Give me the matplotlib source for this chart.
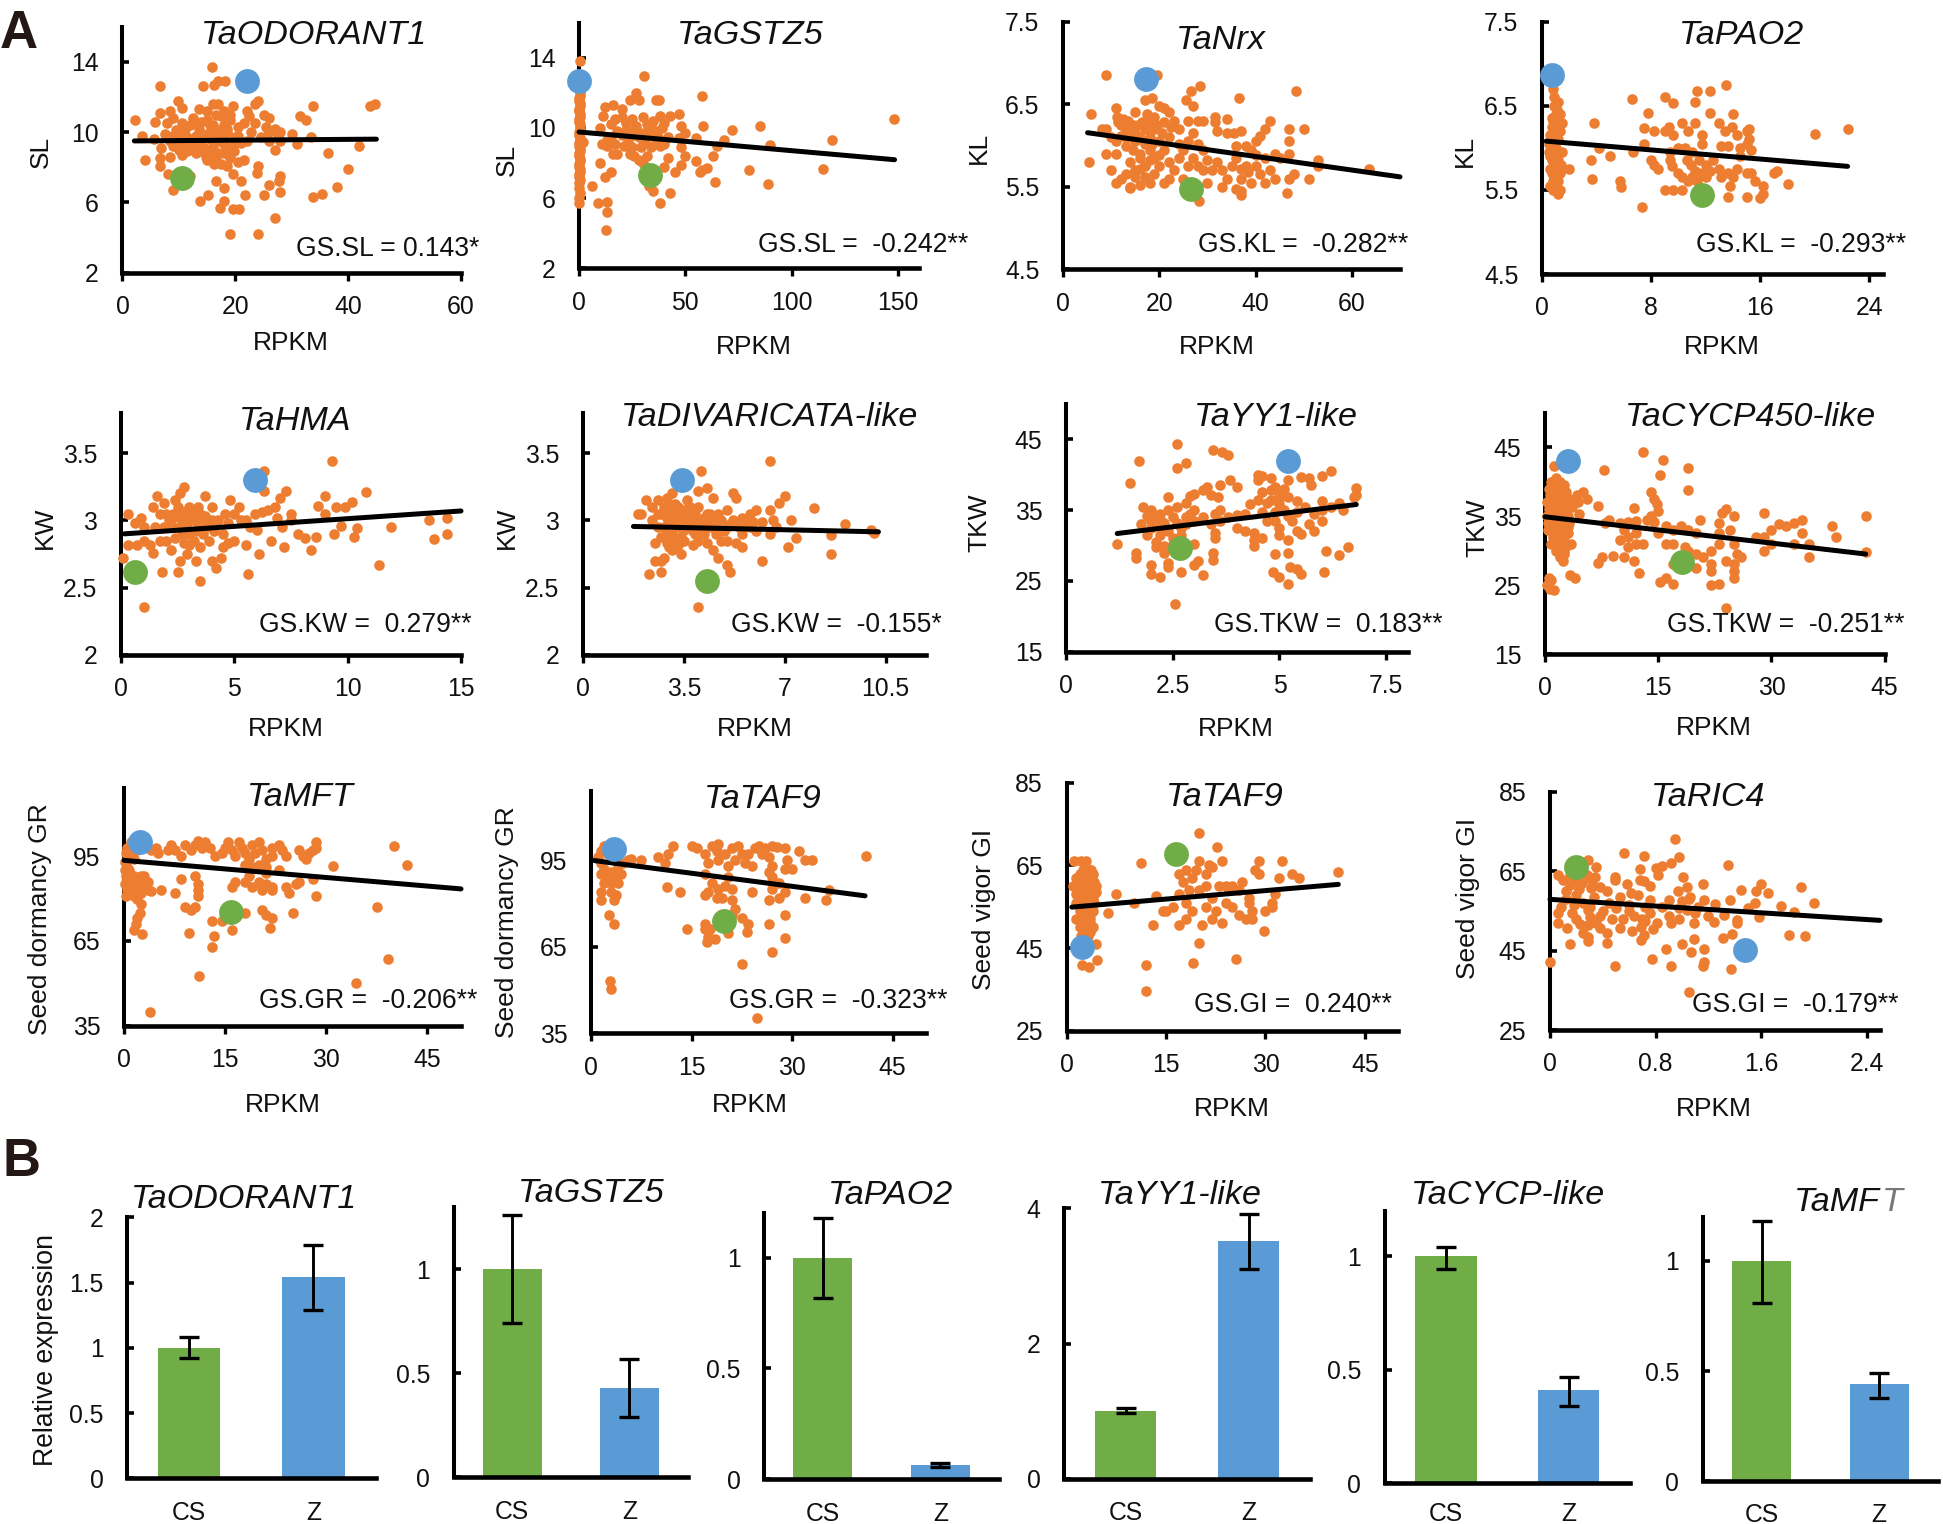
import numpy as np
import matplotlib
matplotlib.use("Agg")
import matplotlib.pyplot as plt

plt.rcParams['font.family'] = ['Liberation Sans', 'DejaVu Sans']

W, H = 1943, 1524
ORANGE, GREEN, BLUE = '#ED7D31', '#70AD47', '#5B9BD5'
INK = '#111111'

# ---------- panel A point readings (RPKM, trait) ----------
odorant_pts = [(15.8,13.7),(6.6,12.6),(14.2,12.6),(16.2,12.7),(17,12.9),(18.2,12.9),(24,11.8),(23.5,11.6),(9.8,11.8),(10.5,11.4),(8.5,11.2),(6.6,11.1),(13.5,11.3),(16,11.6),(17,11.6),(19.5,11.5),(22,11.2),(22.5,10.9),(25,11.0),(26,10.8),(33.8,11.5),(43.8,11.5),(44.8,11.6),(31.5,10.9),(32.5,10.7),(2.2,10.7),(5.8,10.6),(7.8,10.5),(9,10.8),(12.5,10.8),(14,10.6),(16,10.4),(17.5,10.9),(19,10.7),(20.5,10.3),(22.8,10),(25.5,10.3),(27,10.2),(28,10),(30,9.9),(33.5,9.7),(3.5,9.8),(5.5,9.6),(7.5,9.9),(9.5,10.1),(11,10.2),(13,9.8),(15,9.9),(17,9.9),(18.5,10),(20,9.7),(22,9.5),(24.5,9.7),(26,9.5),(28,9.5),(31,9.3),(42,9.2),(6.8,9.1),(9,9.2),(10.5,9.3),(12,9.2),(14,9.3),(16,9.2),(18,9.3),(19.5,9.2),(21,9.4),(27,9),(36.5,8.8),(3.9,8.4),(6.7,8.5),(8.5,8.6),(10.5,8.7),(13,8.8),(15,8.4),(16.5,8.6),(17.5,8.2),(19,8.5),(20.5,8.3),(24,8.1),(6.6,8.1),(23.8,7.7),(40,7.9),(8,7.6),(12,7.5),(16.5,7.2),(19.5,7.6),(21,7.2),(28,7.5),(27.8,7.2),(9,6.7),(18,6.8),(25,6.4),(28,6.6),(26,7),(38,6.9),(33.8,6.3),(35.3,6.5),(15.2,6.4),(13.7,6.1),(18,6.1),(21.8,6.4),(17.3,5.7),(19.5,5.6),(20.7,5.6),(27,5.1),(19,4.2),(24,4.2),(11.5,9.7),(12.5,9.5),(14.5,9.1),(15.5,8.9),(17,8.8),(18,9.7),(19,9),(12,10.4),(15,10.7),(18,10.4),(16,10),(13.5,10.2),(10,9.7),(8.5,9.5)]
odorant_dense = [(15,11.2),(16.5,11),(18,11.2),(19,11),(18.5,10.2),(17.3,10.1),(15.5,10.4),(13,10.5),(10.5,10.5),(9,9.8),(11,9.4),(12.5,9),(13.5,8.9),(14.8,8.6),(16.2,8.2),(18,8.8),(19.7,8.9),(20.5,9.8),(21.5,10.5),(17,9.5),(15.5,9.6),(14,9.6),(11.5,8.9),(10,9),(16,8.4),(18.5,8.1),(21.5,8.4),(26,10),(27.5,9.8),(23.5,10.5)]
gstz_pts = [(.3,13.8),(.2,12.3),(.3,12),(.2,11.7),(.3,11.4),(.2,11.1),(.3,10.8),(.2,10.5),(.3,10.2),(.5,9.9),(.2,9.6),(.4,9.3),(.2,9),(.3,8.7),(.2,8.4),(.3,8.1),(.2,7.8),(.3,7.5),(.2,7.2),(.2,6.6),(.3,6.3),(.2,6),(.2,5.7),(30.5,12.95),(27,12),(24,11.6),(28,11.6),(36,11.6),(37.5,11.6),(58,11.8),(12,11.2),(16,11.3),(20,11.1),(11.5,10.7),(10,10),(15,10.2),(17,10.5),(20,10.6),(22,10.3),(25,10.5),(27,10.1),(30,10.6),(32,10.2),(35,10.4),(38,10.7),(40,10.3),(43,10.7),(47,10.8),(48,10.1),(58.5,10.1),(72,9.9),(85,10.1),(148,10.5),(119,9.3),(89.8,9.05),(114.8,7.66),(80,7.6),(89,6.8),(64,6.9),(60,7.7),(58,7.6),(57,7.5),(63,8.4),(68,9.3),(55,9.4),(65,9),(50,9.7),(47,9.4),(48,8.9),(50,8.4),(55,8.1),(48,7.9),(40,7.8),(45,7.5),(33,6.7),(35,6.4),(43,6.3),(38,5.7),(12,7.2),(15,7.5),(10,8),(6,6.7),(9,5.7),(13,5.8),(13,5.2),(12.5,4.2),(11,9.1),(13,9),(16,8.5),(18,8.5),(21,9),(23,9.2),(25,8.9),(26,8.4),(28,8.2),(30,8),(32,8.4),(34,8.9),(36,9.2),(38,9),(40,9.1),(42,8.3),(42,9.5),(28,9.5),(30,9.7),(33,9.7),(36,9.8),(18,9.8),(20,9.6),(24,9.8),(15,9.5),(13,9.3),(39,10),(2,9.2)]
gstz_dense = [(.2,13.1),(.3,11.85),(.2,11.55),(.3,11.25),(.2,10.95),(.3,10.65),(.2,10.35),(.3,10.05),(.2,9.75),(.3,9.45),(.2,9.15),(.3,8.85),(.2,8.55),(.3,8.25),(.2,7.95),(.3,7.65),(.2,7.35),(.3,7.05),(.2,6.85),(26,9.6),(31,9.2),(34,10),(29,8.9),(24,8.5),(37,9.5),(22,9.9),(17,9.1),(27,9.9)]
nrx_pts = [(8.9,6.85),(19.5,6.85),(28.5,6.72),(26.5,6.66),(48.5,6.66),(17,6.55),(18.5,6.58),(36.5,6.57),(25.5,6.55),(27,6.48),(5.8,6.38),(11,6.45),(11.2,6.35),(15,6.4),(20,6.48),(21,6.45),(22,6.4),(19,6.35),(23,6.3),(18,6.3),(24,6.2),(12,6.25),(13,6.2),(14,6.15),(15.5,6.25),(16,6.1),(17,6.2),(18,6.1),(19,6.2),(20.5,6.15),(22,6.1),(8,6.2),(9,6.2),(10,6.1),(11,6.05),(13,6.0),(26,6.3),(28,6.3),(29,6.3),(31.5,6.35),(31.5,6.28),(34,6.32),(34,6.15),(32,6.17),(35.5,6.15),(37,6.17),(27,6.15),(26,6.05),(28,6.02),(29,5.95),(43,6.3),(42,6.2),(41,6.12),(40,6.05),(38,6),(36,6.0),(39,5.95),(47,6.2),(50,6.2),(47,6.05),(47,5.9),(44,5.9),(45,5.85),(42,5.85),(40,5.88),(9,5.9),(11,5.9),(5.5,5.8),(10,5.7),(12,5.6),(13,5.65),(11,5.55),(14,5.8),(15,5.7),(16,5.9),(17,5.75),(18,5.95),(19,5.85),(20,5.75),(21,5.95),(22,5.8),(23,5.7),(24,5.85),(25,5.6),(26,5.75),(27,5.85),(28,5.75),(29,5.7),(30,5.55),(32,5.8),(33,5.7),(34,5.6),(33,5.5),(35,5.75),(36,5.85),(37,5.6),(38,5.75),(39,5.55),(40,5.75),(41,5.65),(43,5.7),(44,5.6),(42,5.55),(37,5.45),(36,5.47),(37,5.4),(47,5.6),(46.5,5.42),(48,5.65),(51,5.6),(53,5.75),(53,5.82),(63.5,5.72),(14,5.5),(16,5.52),(18,5.55),(21,5.55),(22,5.6),(28.3,5.33),(14,5.48)]
nrx_dense = [(11.5,6.28),(12.5,6.32),(13.5,6.3),(14.5,6.25),(15,6.15),(16.5,6.28),(17.5,6.38),(19.5,6.25),(20,6.05),(21,6.28),(22.5,6.22),(12,6.12),(13,6.1),(15,6.05),(17,6.02),(18.5,6.02),(14.5,5.95),(16,5.85),(18,5.82),(20,5.88),(15,5.62),(17,5.62),(19,5.65),(16,5.72),(24,6.02),(25,5.95),(30,5.82),(31,5.7),(37,5.72),(38.5,5.68)]
pao_pts = [(.8,6.7),(1.2,6.55),(.9,6.5),(1,6.4),(.7,6.35),(1.1,6.3),(.9,6.2),(1.5,6.3),(1.3,6.2),(.6,6.15),(1,6.1),(.8,6.05),(1.2,6.1),(1.5,5.95),(.5,5.95),(.9,5.9),(1.2,5.85),(.7,5.85),(1.4,5.8),(.6,5.75),(1,5.7),(1.3,5.7),(2,5.75),(.8,5.6),(1.2,5.6),(.6,5.55),(1.3,5.5),(.8,5.5),(1.2,5.45),(3.8,6.3),(4.2,6),(3.6,5.85),(3.7,5.63),(5.7,5.6),(5.8,5.53),(6.6,6.58),(6.7,5.95),(7.8,6.42),(7.5,6.24),(8.2,6.2),(7.5,6.05),(9,6.6),(9.6,6.53),(9.3,6.25),(9,6.2),(9.6,6.15),(10.3,6.3),(10.7,6.2),(11.2,6.55),(11.2,6.3),(11.4,6.68),(12.3,6.68),(13.5,6.75),(11.7,6.15),(11.7,6.05),(10,6),(10.5,6),(11,5.95),(12.3,6.42),(13.1,6.02),(13.6,6.02),(14,6.4),(13,6.3),(13.4,6.2),(13.9,6.25),(14.3,6.15),(14.5,6),(15,6.2),(15.2,6.1),(15.2,6.22),(15,6.05),(15.3,5.98),(9.4,5.95),(9.4,5.85),(8,5.85),(8.2,5.8),(8.5,5.75),(9.5,5.78),(10,5.7),(10.3,5.65),(10.7,5.6),(11.2,5.72),(11.7,5.7),(12,5.8),(12,5.65),(12.5,5.85),(13,5.75),(13.1,5.65),(13.6,5.7),(13.8,5.55),(14,5.65),(14.3,5.75),(15,5.7),(15.3,5.7),(15.6,5.6),(14.5,5.9),(16.2,5.55),(17,5.7),(17.2,5.72),(18,5.57),(9,5.5),(9.6,5.5),(10.3,5.5),(7.3,5.3),(13.6,5.42),(15,5.42),(16,5.4),(16.2,5.45),(20,6.16),(22.4,6.22),(5,5.9)]
pao_dense = [(.9,6.6),(1.1,6.45),(.7,6.25),(1.3,6.4),(.5,6.05),(1,6),(.6,5.9),(1.1,5.78),(.9,5.65),(.7,5.7),(1.1,6.18),(.8,6.32),(10.9,5.8),(11.4,5.6),(12.3,5.72),(10.6,5.85),(11,5.65),(11.5,5.85)]
hma_pts = [(9.3,3.44),(6.3,3.37),(1,2.36),(.1,2.72),(.3,3.05),(.6,2.98),(.9,3.02),(.3,2.82),(.7,2.82),(1,2.85),(1.3,2.82),(1.4,3.1),(1.6,3.18),(1.7,3.05),(1.9,3.13),(1.5,2.95),(1.4,2.76),(1.9,2.95),(1.8,2.62),(2.1,3),(2.3,2.95),(2.4,3.15),(2.6,3.2),(2.8,3.25),(2.5,2.62),(2.6,2.7),(2.7,2.9),(2.8,3),(3,3.05),(3,2.9),(2.2,2.78),(2.9,2.75),(3.2,2.85),(3.3,3),(3.5,3.05),(3.5,2.8),(3.3,2.7),(3.5,2.55),(3.7,3.18),(3.8,2.95),(3.9,2.85),(4,3.1),(4,2.7),(4.2,2.65),(4.3,3),(4.5,2.9),(4.5,2.8),(4.4,2.72),(4.7,2.98),(4.8,3.15),(5,3.05),(5,2.85),(5.2,3.1),(5.5,3),(5.5,2.82),(5.6,2.6),(5.7,2.95),(5.9,3.05),(6,2.93),(6.1,2.75),(6.3,3.22),(6.5,3.08),(6.6,2.85),(6.8,3.1),(7,3.17),(7.1,2.95),(7.3,3.22),(7.2,2.8),(7.5,3.05),(7.5,3),(7.8,2.9),(8.1,2.87),(8.4,2.78),(8.6,2.88),(8.7,3.11),(9,3.18),(9,3.05),(9.4,2.9),(9.5,3.1),(9.7,2.96),(9.9,3.1),(10.2,3.14),(10.3,2.88),(10.4,2.94),(10.8,3.21),(11.9,2.95),(11.4,2.67),(13.6,3),(13.8,2.86),(14.4,3.02),(14.4,2.9),(3,3.1),(2,2.85),(1,2.95),(3.6,2.9),(4.7,2.83),(2.5,3.05),(3.2,3.08),(2.2,3),(3.6,2.97),(2.8,2.83),(4.1,2.92)]
hma_dense = [(2.6,3.02),(2.9,3.07),(3.1,3),(3.4,2.97),(2.6,2.95),(2.4,2.87),(2.9,2.95),(3.3,2.92),(3.7,3.03),(4,3),(2.5,3.1),(3.4,3.1),(6.2,3.06),(6.9,3.02),(4.6,3.05),(5.3,3),(2,3.05),(1.7,2.85),(2.3,3.05),(3,2.82)]
div_pts = [(6.5,3.44),(4.1,3.37),(4,2.36),(2,3.05),(1.9,3.05),(2.2,3.15),(2.4,3.1),(2.4,3),(2.6,3.05),(2.5,2.83),(2.7,2.7),(2.9,3.17),(3,3.1),(3.1,3.2),(3.2,3),(2.9,2.9),(3,2.8),(2.7,2.62),(2.3,2.6),(2.5,2.7),(2.8,2.72),(3.3,3.05),(3.4,2.95),(3.5,2.85),(3.4,2.75),(3.6,3.15),(3.7,3.05),(3.8,3),(3.9,2.9),(3.8,2.82),(3.7,3.1),(4,3.22),(4.3,3.24),(4,3.1),(4.1,3),(4.2,2.9),(4.3,2.83),(4.3,3.05),(4.5,3),(4.5,2.78),(4.5,3.17),(4.6,2.9),(4.7,2.72),(4.8,3),(4.8,2.85),(5,2.67),(5,2.95),(5,2.85),(5.1,2.62),(5.2,3.2),(5.3,3.17),(5.2,3),(5.3,2.83),(5.5,2.8),(5.5,2.9),(5.5,3.02),(5.7,3),(5.8,2.95),(5.8,3.05),(6,3.08),(6,2.92),(6.2,2.7),(6.5,3.08),(6.5,2.9),(6.7,2.95),(6.6,3),(7,3.18),(6.8,3.13),(7.1,2.8),(7.2,3),(7.4,2.87),(8,3.09),(8.6,2.75),(8.6,2.89),(9.1,2.97),(10,2.93),(10.1,2.91),(2.8,2.95),(3.1,2.9),(3.3,3.1),(3.6,2.95),(4,2.85),(4.7,3.05),(2.9,3.02),(3.2,2.85),(4.4,2.95),(5,3.08),(6.2,2.99),(2.6,2.95),(3.5,3),(3.9,3.05),(4.2,2.97),(3,2.98),(3.4,2.88)]
div_dense = [(2.7,3.05),(2.8,3.1),(3,3.03),(3.2,3.12),(3.3,2.95),(3.5,3.08),(3.6,3.03),(3.7,2.97),(3.8,2.92),(3.9,3),(4.1,2.95),(4.2,3.02),(2.7,2.88),(2.9,2.83),(3.1,2.78),(3.3,2.82),(3.5,2.93),(4.4,3.05),(4.6,2.97),(4.9,2.92),(5.1,2.97),(5.4,2.95),(5.6,2.97),(5.9,2.99),(2.6,3.15),(3.1,3.05)]
yy1_pts = [(2.6,44.4),(3.45,43.5),(3.65,43.2),(3.8,42.8),(1.7,42),(2.6,41),(2.8,41.7),(1.5,38.8),(6.2,40.5),(4.5,40),(4.5,39.3),(4.6,39.8),(4.8,39.5),(5.2,39.2),(5.5,39.7),(5.7,39.5),(5.75,38.5),(6,39.8),(3.6,38.6),(3.85,39.3),(4,38.3),(3.3,38.3),(3.2,37.8),(3.4,37.2),(3.55,36.8),(6.8,38.2),(6.8,37.2),(6.75,36.8),(4.6,37.5),(4.8,37.8),(4.9,38.3),(5,37.2),(5.1,38),(5.2,36.8),(4.5,36.5),(4.3,35.8),(4.7,36),(5,35.8),(5.4,36.3),(5.6,35.5),(6,36.3),(6.2,35.5),(6.4,36),(6.5,35),(2.4,36.8),(2.9,37),(3,37.3),(2.8,36),(2.6,35.5),(2.4,35),(1.8,35.5),(2,35),(2.2,34.5),(2.5,34),(2.8,34),(3,35),(3.2,34),(3.5,34.5),(3.6,33.5),(3.4,33),(3,33.5),(2.2,33.8),(2,33.5),(1.75,33),(2,32.5),(2.3,32.6),(2.7,32.5),(1.9,31.5),(2.2,31.5),(2.5,31),(2.1,30.5),(3.5,31),(3.5,31.8),(4,32.5),(4,34.3),(4.2,34.5),(4.2,32),(4.4,31.8),(4.4,30.8),(4.4,30),(4.6,31),(4.7,33.5),(4.9,33.5),(5.0,32.5),(5,31.5),(5.2,30.8),(5.4,32),(5.5,31.6),(5.3,33.5),(5.7,33),(5.8,32),(6,33.5),(6,35),(6.1,29.2),(6.6,29.8),(6.4,28.6),(5.2,29),(4.9,28.8),(1.2,30.2),(1.65,29),(1.65,28.2),(2.1,29.8),(2.3,30),(2.4,27.5),(2,27.2),(2,26),(2.2,25.5),(2.4,27),(2.7,26.2),(3,27.2),(3.1,27.8),(3.2,25.8),(3.45,28),(3.45,29),(3,30.2),(4.85,26.2),(5,25.5),(5.25,27),(5.4,26.7),(5.5,26),(6.05,26.2),(5.2,24.6),(2.55,21.8)]
yy1_dense = [(2.1,34),(2.3,33.2),(2.4,32),(2.6,33.2),(2.8,33),(2.9,34.5),(2.2,32.8),(1.9,34.2),(2.5,30.2),(2.3,29),(2.7,31.5),(4.8,36.5),(5,36.6),(5.1,35),(4.9,34.8),(5.2,34.2),(4.6,34.8),(5.4,34.8),(5.8,34.5),(3.8,34),(3.6,35)]
cyc_pts = [(.8,40),(1.2,42.3),(1.5,40.5),(2,40),(2.5,39.5),(1,39),(1.8,38.5),(.6,38),(2.8,38.5),(4.2,38),(5,38.5),(.3,37),(1.2,37),(2.3,37),(3.2,37.5),(4.4,37),(.5,36),(1.5,36),(2.8,36),(3.6,36.3),(.3,35),(1,35),(2,35.2),(3,35),(4.5,35.3),(.4,34),(1.2,34),(2.2,34),(3.2,34),(.6,33),(1.5,33),(2.5,33),(1,32),(2,32),(3,32.5),(.8,31),(1.5,31),(2.5,31),(3.4,31),(1.5,30),(2.5,30),(2,29),(2.4,28.5),(.5,26),(.8,25.8),(.3,25),(.6,24.5),(1.2,24.3),(3.3,26.5),(4,26),(5.5,37.5),(7,36.5),(13,44.3),(15.7,43.2),(19,42),(15.2,41),(7.8,41.7),(19,38.8),(14,38.5),(14.5,37.5),(14.8,36.8),(15,35.8),(11.8,36.2),(8,34),(8.5,34.5),(10,34),(11,34.2),(12,34.3),(13.5,34.5),(14,35),(14.5,34.2),(10.5,33),(11,32),(12,32.5),(10,31.5),(11,30.5),(12,31),(13,31),(9,29.2),(7,28.2),(7.5,29),(10.5,29),(11.8,28.5),(12.5,26.8),(15,32.5),(16,33.5),(17,33),(18,33.5),(19,33),(20,32.5),(20.5,34.5),(23,34),(23.5,35.5),(24,36),(25,35),(24.5,33),(23,32.5),(16,31),(17,31),(18.5,30.5),(19,30),(20,29.5),(21,29),(22,30),(23,31),(25,31),(25.5,29.5),(26,29),(17,28),(16,26),(20,27.5),(22,28),(22,27),(24,28.5),(25,28),(25,27),(17,25.2),(15.3,25.5),(22,25),(23,25.2),(24,21.7),(25,26),(28,32),(29,32),(30,31),(30,33),(31,33.8),(32,33.5),(33,34),(34,34.5),(29,30),(33,31),(35,31),(35,29),(34,32.5),(38,33.5),(38.5,32),(42.5,35),(42.5,29.8),(29,35.5)]
cyc_dense = [(.5,39),(1,37.8),(1.8,37.5),(2.5,37.8),(.7,36.6),(1.8,35.6),(2.5,35.5),(.8,34.6),(1.7,34.5),(2.7,34.5),(.9,33.5),(2,33.5),(3,33.4),(1.3,32.5),(2.5,32),(1.2,31.5),(2,31),(3,30.8),(2,30.2),(2.5,29.5),(1.8,39.3),(.4,33),(3.7,37.3)]
mft_pts = [(1,100),(.5,98),(1,96),(1.5,94),(2,97),(3,99),(4,97),(4.8,98),(5,96),(6.5,97),(7,99),(7.5,97),(8.5,95),(9,99),(10,97),(10.5,99),(11,100.5),(11.5,98),(12,100),(12.8,98),(13.5,95),(14.5,96),(15,98),(15.5,100),(16,97),(16.5,95),(17,100),(17.5,98),(18,96),(18.5,94),(19,99),(19.5,96),(20,100),(20.5,97),(21,94),(22,98),(22,95),(23,99),(23.5,97),(24,95),(26,97),(26.5,95),(27,94),(27.5,96),(28,97),(28.5,100),(28.5,98),(31,91.5),(40,98.5),(42,91.8),(.3,88),(.5,86),(1,85),(1.5,84),(2,87),(2.5,85),(3,88),(3.5,86),(.5,83),(1,82),(1.5,81),(2,80),(3.5,83),(4,82.5),(5.5,83),(7.5,82),(8.5,87),(10.5,88),(11,85),(11,83),(11,81),(16,84),(16.5,86),(18,86),(19,84),(18.5,88),(20,86),(20.5,83),(22,83),(21,85),(22,84),(23,90),(24,84),(24.5,82),(25.5,85),(26,86),(28,87),(28.5,81),(19,91),(18,92),(20,92),(21,91),(21,89),(2.5,78),(2.3,75),(2,73),(1.8,71),(1.5,69),(2.7,67.5),(9,77),(10,76),(10.5,77),(13,72),(14.5,72),(18,75),(20.5,76),(21,74),(22,73),(25,75),(21.7,69.6),(16,69),(9.7,67.8),(13.4,66.6),(13,63),(37.5,77),(39.2,58.7),(11.1,52.6),(34.4,50),(3.9,40)]
mft_dense = [(.3,96),(.2,93),(.2,90),(.5,91),(.2,85),(.3,81),(1,88),(1.5,88),(2.5,88),(2,84),(2.5,82),(.8,90)]
taf_gr_pts = [(1.5,98),(2,100),(1,96),(1.5,94),(2,92),(3,91),(4,93),(4.8,94),(5.5,95),(3.5,96),(2.5,97),(1.5,90),(2.5,89),(3.5,90),(4.5,90),(2,87),(3,87),(4,87),(1.5,84),(3,84),(3.7,83),(1.5,81),(3.5,81),(2.7,76),(3.5,73),(2.8,53),(3,50.2),(6,95.5),(7.5,95),(10,96),(11,94),(11.5,97),(12.3,100),(11.3,85.5),(13.3,84),(15,100),(15.8,99),(17,97),(17.5,94),(18,100),(18.8,98),(19,95),(19,100.5),(20,97),(20.5,93),(21,99),(21.5,95),(22,100),(22.5,97),(23,94),(23.5,97),(24,93),(24.5,99),(25,100),(25.5,97),(26,99),(26.5,96),(27,100),(27,93),(27.8,99.5),(26.5,91),(27,89),(29,99),(29.3,95),(29,92),(30,92),(31,98),(32,95),(33,95),(17,90),(18,87),(17.5,84),(19,85),(20,86),(20.5,89),(21,85),(19.5,82),(18.8,82),(17,83),(21,81),(21.5,78),(21,76),(20,76),(22.5,75),(23.5,73),(14.3,71),(17,73),(17,71),(17.5,68.5),(17.8,71),(20.5,69.6),(23.3,70),(18.5,67.6),(17.3,66.7),(29,68),(27,63),(22.6,59),(26.5,73),(29,76),(26.5,81),(28,82),(29,84),(28,87),(27,85),(32,82),(35,81),(35.5,84.5),(24,84),(41,96.5),(24.8,40.2)]
taf_gi_pts = [(1.2,66),(2.2,66),(3,66),(3.7,64),(1.5,62),(2.5,62),(3.5,62),(4,63),(1,60),(2,60),(3,60),(4,60),(1.5,58),(2.5,58),(3.5,58),(4.5,58.5),(1.5,56),(2.5,56),(3.5,56),(4.2,56),(2,54),(3,54),(4,54),(1.5,52),(2.5,52),(3.5,52),(2,50),(3,50),(4,50),(2.2,48),(3.2,48),(4.5,46),(2.5,44),(4.6,42),(2.3,41),(3.4,40.3),(6.2,53.5),(7.5,58),(10.2,56),(11.3,65.5),(12,41),(12,34.7),(13,50.5),(13.5,57.5),(14.5,54),(15,54),(16,55),(17,63),(17.5,61),(17,58),(18,56),(18,52),(17,50.5),(18,64),(19,62),(19.5,64),(20,66),(20,72.9),(20,59),(20,46.3),(19.1,41.3),(21,63),(21,60),(21.5,65),(22,64.5),(22,57),(22,52),(21,55),(22.7,69.5),(23,60),(23.5,66),(23.5,51),(24,56),(24.5,59),(25,55),(25,60),(25.6,42.3),(26,53),(26,59),(26.5,61),(27,52),(27.5,57),(28,54),(28,52),(27.5,56),(28.5,64),(29,63),(29,66),(29.8,49.2),(30,54),(31,55),(31,56),(31.5,58),(32,62),(32.5,66),(34,63),(35,62),(41,63.5),(24,60),(19,54),(20.5,50.5),(22.5,54),(18.5,59)]
taf_gi_dense = [(2,61),(3,61),(4,61),(2,59),(3,59),(4,59),(2,57),(3,57),(4,57),(2,55),(3,55),(2.5,53),(3.5,53),(2.5,51),(3.5,51),(2.5,49),(3.5,49),(3,47),(3,63),(2.5,64),(3.5,64),(2,63),(4.2,61),(4.4,60)]
ric_pts = [(.95,73),(.56,69.5),(.71,68.7),(.98,68.5),(.29,67.7),(.92,67),(.85,66.2),(1.35,66.5),(.8,65.8),(.35,66),(.68,65.5),(.82,64),(1.01,63.5),(.49,63.5),(.49,62.8),(.68,62.8),(.71,62.4),(.58,61.7),(.76,61.3),(.38,61),(1.16,61.8),(1.04,61),(1.6,61.8),(1.9,61),(1.45,60.3),(1.56,60),(1.65,59.5),(.97,60),(.34,63.5),(.06,64),(.1,62.8),(.15,61.5),(.24,62),(.31,60.7),(.43,60),(.53,58.6),(.61,59.5),(.67,59),(.76,57.8),(.9,57.8),(1,57.4),(1.06,58.6),(1.17,57.8),(1.36,57.8),(1.25,56.8),(2,57),(1.75,56.3),(1.55,57),(1.5,55.7),(1.85,54.8),(1.58,53.5),(1.42,52.7),(1.32,54),(1.2,53.6),(1.42,51.9),(1.24,52.2),(1.09,51.9),(.92,51.9),(.81,51.9),(.69,51),(.53,50.6),(.38,50.6),(.29,51.5),(.13,50.6),(.06,51.9),(.06,54.4),(.17,54.4),(.29,55.3),(.38,53.6),(.5,55.7),(.64,53.6),(.76,54.4),(.9,53.6),(1.04,55.2),(.29,48.5),(.43,49.4),(.43,46.8),(.15,46.6),(.29,47.3),(.69,47.7),(.71,49),(1.09,47.9),(1,46.7),(1.31,48.1),(1.38,49.1),(1.81,48.8),(1.93,48.7),(.88,45.3),(1.07,44.7),(1.17,45.3),(.77,42.9),(0,42.2),(.49,41.2),(.92,41),(1.17,42.1),(1.16,41),(1.37,40.4),(1.05,34.5),(.2,59),(.25,57),(.12,58),(.33,58.5),(.45,57),(.6,56.5),(.72,56),(.85,56),(.2,53),(.25,49.5),(.35,52),(.55,53),(.62,50)]
ric_dense = [(.15,64),(.2,62.5),(.28,64),(.12,60),(.22,60.5),(.32,62.5),(.18,56.5),(.08,56),(.3,56),(.4,55),(.47,53),(.6,55),(.72,52.5),(.78,50.5),(.7,53),(.98,55.8),(1.12,56),(1.1,54.5),(.98,53),(1.05,58),(.3,53.5),(.23,51.8)]

titles_a = ['TaODORANT1','TaGSTZ5','TaNrx','TaPAO2','TaHMA','TaDIVARICATA-like','TaYY1-like','TaCYCP450-like','TaMFT','TaTAF9','TaTAF9','TaRIC4']
ylabels_a = ['SL','SL','KL','KL','KW','KW','TKW','TKW','Seed dormancy GR','Seed dormancy GR','Seed vigor GI','Seed vigor GI']
stats_a = ['GS.SL = 0.143*','GS.SL =  -0.242**','GS.KL =  -0.282**','GS.KL =  -0.293**','GS.KW =  0.279**','GS.KW =  -0.155*','GS.TKW =  0.183**','GS.TKW =  -0.251**','GS.GR =  -0.206**','GS.GR =  -0.323**','GS.GI =  0.240**','GS.GI =  -0.179**']
points_a = [odorant_pts+odorant_dense,gstz_pts+gstz_dense,nrx_pts+nrx_dense,pao_pts+pao_dense,hma_pts+hma_dense,div_pts+div_dense,yy1_pts+yy1_dense,cyc_pts+cyc_dense,mft_pts+mft_dense,taf_gr_pts,taf_gi_pts+taf_gi_dense,ric_pts+ric_dense]
blue_a = [(22.1,12.9),(0,12.67),(17.2,6.81),(.7,6.87),(5.9,3.3),(3.45,3.3),(5.2,42),(3.1,43),(2.4,100),(3.4,98.7),(2.4,45.3),(1.48,45.2)]
green_a = [(10.6,7.4),(33.4,7.33),(26.5,5.47),(11.7,5.44),(.6,2.62),(4.3,2.55),(2.67,29.7),(18.1,28.3),(15.9,75.4),(19.8,73.8),(16.5,67.8),(.2,66)]
fit_a = [((2.1,9.5),(45,9.6)),((0,9.77),(148.5,8.19)),((5.1,6.155),(70,5.62)),((.3,6.08),(22.4,5.78)),((.15,2.9),(15,3.07)),((1.75,2.955),(10.25,2.915)),((1.2,31.7),(6.8,35.8)),((0,34.9),(42.5,29.5)),((0,93.5),(50,83.4)),((.5,94.8),(40.9,82.6)),((.8,54.9),(41,60.4)),((0,57.9),(2.5,52.6))]
xticks_a = [[0,20,40,60],[0,50,100,150],[0,20,40,60],[0,8,16,24],[0,5,10,15],[0,3.5,7,10.5],[0,2.5,5,7.5],[0,15,30,45],[0,15,30,45],[0,15,30,45],[0,15,30,45],[0,.8,1.6,2.4]]
yticks_a = [[2,6,10,14],[2,6,10,14],[4.5,5.5,6.5,7.5],[4.5,5.5,6.5,7.5],[2,2.5,3,3.5],[2,2.5,3,3.5],[15,25,35,45],[15,25,35,45],[35,65,95],[35,65,95],[25,45,65,85],[25,45,65,85]]
xmax_a = [60,160,70,25,15,11.9,8,45,50,50,50,2.5]
ylim_a = [(2,16),(2,16),(4.5,7.5),(4.5,7.5),(2,3.8),(2,3.8),(15,50),(15,50),(35,119),(35,119),(25,85),(25,85)]

# ---------- panel B ----------
titles_b = ['TaODORANT1','TaGSTZ5','TaPAO2','TaYY1-like','TaCYCP-like','TaMF']
groups = ['CS','Z']
means_b = [[1,1.54],[1,.43],[1,.065],[1,3.52],[1,.41],[1,.44]]
err_lo_b = [[.92,1.29],[.74,.29],[.82,.055],[.97,3.1],[.945,.34],[.81,.38]]
err_hi_b = [[1.08,1.79],[1.26,.57],[1.18,.075],[1.05,3.92],[1.04,.47],[1.18,.49]]
yticks_b = [[0,.5,1,1.5,2],[0,.5,1],[0,.5,1],[0,2,4],[0,.5,1],[0,.5,1]]
ymax_b = [2,1.3,1.2,4,1.2,1.2]

# ---------- layout in reference pixels ----------
boxes_a = [(122.5,461,26.7,272.7),(579,919,22.7,268.3),(1063,1400,21.7,269.3),(1542,1883,21.7,274),
           (121,461,412.7,655),(583,926,412.7,655),(1066,1407.5,404,651.7),(1545,1884.6,412.7,654),
           (124,461,788.3,1025.7),(591,926,790.7,1033.3),(1066.5,1398,782.7,1030.7),(1550,1880,791.7,1030)]
title_pos_a = [(314,33),(750,33),(1221,38),(1742,33),(295,419),(770,415),(1276,415),(1751,415),(300,795),(763,797),(1225,795),(1708,795)]
stat_pos_a = [(296,247),(758,243),(1198,243),(1696,243),(259,622),(731,622),(1214,622),(1667,623),(259,999),(729,999),(1194,1002),(1692,1003)]
xlab_pos_a = [(291,340),(754,344),(1217,344),(1722,344),(286,727),(755,727),(1236,727),(1714,725),(283,1102),(750,1103),(1232,1106),(1714,1106)]
ylab_pos_a = [(41,149),(507,157),(979,145),(1465,148),(44.5,525),(507,525),(979,520),(1477,525),(40,917),(507,920),(984,907),(1468,896)]
boxes_b = [(127,375.6,1217.3,1478.3),(453.6,688,1206.7,1477.3),(764,999,1213.3,1479.3),(1064,1310,1208.3,1479),(1384.6,1630,1210.7,1483.3),(1702.7,1938,1216.7,1481.3)]
title_pos_b = [(244,1197),(591,1191),(891,1193),(1180,1193),(1508,1193),(1794,1200)]
xpad_b = [16,16,16,16,13.5,15.5]

fig = plt.figure(figsize=(W/100, H/100), dpi=100, facecolor='white')

def fx(x): return x / W
def fy(y): return 1 - y / H

def make_axes(box):
    l, r, t, b = box
    ax = fig.add_axes([fx(l), fy(b), (r-l)/W, (b-t)/H])
    ax.patch.set_alpha(0)
    for s in ('top', 'right'):
        ax.spines[s].set_visible(False)
    ax.spines['left'].set_linewidth(2.9)
    ax.spines['bottom'].set_linewidth(3.3)
    return ax

def label(s):
    return f'{s:g}'

def ftext(x, y, s, size, **kw):
    kw.setdefault('ha', 'center')
    kw.setdefault('va', 'center')
    kw.setdefault('color', INK)
    fig.text(fx(x), fy(y + 2.5), s, fontsize=size, **kw)

TICK_FS, LAB_FS, TITLE_FS, STAT_FS = 17.8, 19, 24.6, 19.1

for i in range(12):
    ax = make_axes(boxes_a[i])
    pts = np.array(points_a[i])
    ax.scatter(pts[:,0], pts[:,1], s=58, color=ORANGE, linewidths=0, zorder=3, clip_on=False)
    (x0,y0),(x1,y1) = fit_a[i]
    ax.plot([x0,x1],[y0,y1], color='black', lw=3.6, zorder=4, solid_capstyle='round', clip_on=False)
    ax.scatter(*blue_a[i], s=320, color=BLUE, linewidths=0, zorder=5, clip_on=False)
    ax.scatter(*green_a[i], s=320, color=GREEN, linewidths=0, zorder=5, clip_on=False)
    ax.set_xlim(0, xmax_a[i]); ax.set_ylim(*ylim_a[i])
    ax.set_xticks(xticks_a[i]); ax.set_xticklabels([label(v) for v in xticks_a[i]])
    ax.set_yticks(yticks_a[i]); ax.set_yticklabels([label(v) for v in yticks_a[i]])
    ax.tick_params(axis='x', direction='out', length=6, width=2.4, pad=10, labelsize=TICK_FS, labelcolor=INK)
    ax.tick_params(axis='y', direction='in', length=5, width=2.6, pad=17, labelsize=TICK_FS, labelcolor=INK)
    ftext(*title_pos_a[i], titles_a[i], TITLE_FS, style='italic')
    ftext(*stat_pos_a[i], stats_a[i], STAT_FS, ha='left')
    ftext(*xlab_pos_a[i], 'RPKM', LAB_FS)
    ftext(*ylab_pos_a[i], ylabels_a[i], LAB_FS, rotation=90)

for i in range(6):
    ax = make_axes(boxes_b[i])
    pos = np.arange(len(groups))
    ax.bar(pos, means_b[i], width=0.5, color=[GREEN, BLUE], zorder=2)
    m = np.array(means_b[i]); lo = np.array(err_lo_b[i]); hi = np.array(err_hi_b[i])
    ax.errorbar(pos, m, yerr=[m-lo, hi-m], fmt='none', ecolor='black', elinewidth=2.1,
                capsize=7.5, capthick=2.4, zorder=4, clip_on=False)
    ax.set_xlim(-0.5, 1.5); ax.set_ylim(0, ymax_b[i])
    ax.set_xticks(pos); ax.set_xticklabels(groups)
    ax.set_yticks(yticks_b[i]); ax.set_yticklabels([label(v) for v in yticks_b[i]])
    ax.tick_params(axis='x', length=0, pad=xpad_b[i], labelsize=TICK_FS, labelcolor=INK)
    ax.tick_params(axis='y', direction='in', length=5, width=2.6, pad=17, labelsize=TICK_FS, labelcolor=INK)
    ha = 'left' if i == 5 else 'center'
    ftext(*title_pos_b[i], titles_b[i], TITLE_FS, style='italic', ha=ha)

ftext(1882, 1200, 'T', TITLE_FS, style='italic', ha='left', color='#777777')
ftext(46, 1347, 'Relative expression', 19.2, rotation=90)
ftext(0, 32, 'A', 38, ha='left', weight='bold', color='#231815')
ftext(2, 1160, 'B', 38, ha='left', weight='bold', color='#231815')

fig.savefig('out.png', dpi=100, facecolor='white')
